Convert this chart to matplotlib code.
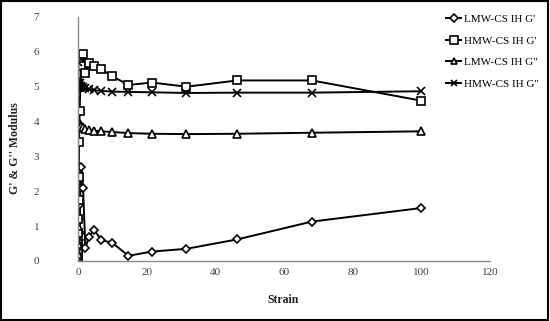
import matplotlib
matplotlib.use("Agg")
import matplotlib.pyplot as plt
from matplotlib.patches import Rectangle

strain = [0.01, 0.0147, 0.0215, 0.0316, 0.0464, 0.0681, 0.1, 0.147, 0.215, 0.316,
          0.464, 0.681, 1.0, 1.47, 2.15, 3.16, 4.64, 6.81, 10.0, 14.7, 21.5, 31.6,
          46.4, 68.1, 100.0]

lmw_g1 = [0.05, 0.3, 0.15, 0.5, 0.25, 0.9, 0.4, 1.2, 0.6, 1.6, 0.8, 2.1, 2.7, 2.1,
          0.37, 0.69, 0.9, 0.6, 0.52, 0.15, 0.27, 0.35, 0.62, 1.13, 1.52]
hmw_g1 = [0.1, 0.15, 0.3, 0.2, 0.5, 0.8, 1.2, 1.75, 2.4, 3.4, 4.3, 5.0, 5.6, 5.95,
          5.4, 5.68, 5.6, 5.5, 5.3, 5.05, 5.12, 5.0, 5.18, 5.18, 4.6]
lmw_g2 = [0.2, 0.5, 1.0, 3.9, 3.95, 4.0, 3.85, 3.9, 3.95, 3.9, 3.92, 3.88, 3.86, 3.84,
          3.8, 3.76, 3.74, 3.72, 3.7, 3.67, 3.65, 3.64, 3.65, 3.68, 3.72]
hmw_g2 = [0.3, 0.6, 5.0, 5.1, 5.2, 5.7, 5.05, 5.1, 5.0, 5.05, 5.1, 5.0, 5.02, 4.98,
          4.95, 4.93, 4.9, 4.88, 4.86, 4.85, 4.84, 4.82, 4.83, 4.83, 4.87]

labels = ["LMW-CS IH G'", "HMW-CS IH G'", 'LMW-CS IH G"', 'HMW-CS IH G"']
x_ticks = [0, 20, 40, 60, 80, 100, 120]
y_ticks = [0, 1, 2, 3, 4, 5, 6, 7]

plt.rcParams['font.family'] = ['Liberation Serif', 'DejaVu Serif']

fig = plt.figure(figsize=(5.5, 3.21), dpi=100)
ax = fig.add_axes([78/550, 1-261/321, (490-78)/550, (261-17)/321])

style = dict(color='black', lw=1.4, mfc='white', mec='black', mew=1.2)
ax.plot(strain, lmw_g1, marker='D', ms=4.3, label=labels[0], **style)
ax.plot(strain, hmw_g1, marker='s', ms=6, label=labels[1], **style)
ax.plot(strain, lmw_g2, marker='^', ms=5.5, label=labels[2], **style)
ax.plot(strain, hmw_g2, marker='x', ms=5.5, label=labels[3], **style)

ax.set_xlim(0, 120)
ax.set_ylim(0, 7)
ax.set_xticks(x_ticks)
ax.set_yticks(y_ticks)
ax.tick_params(axis='both', length=0, labelsize=8, colors='#404040')
ax.tick_params(axis='y', pad=28)
ax.tick_params(axis='x', pad=5)
for s in ['top', 'right']:
    ax.spines[s].set_visible(False)
for s in ['left', 'bottom']:
    ax.spines[s].set_color('#8c8c8c')
    ax.spines[s].set_linewidth(1.0)

fig.text(283/550, 1-300/321, 'Strain', ha='center', va='center',
         fontsize=8.5, fontweight='bold', color='#222222')
fig.text(15/550, 1-148/321, "G' & G'' Modulus", ha='center', va='center',
         rotation=90, fontsize=8.5, fontweight='bold', color='#222222')

fig.legend(loc='upper left', bbox_to_anchor=(442/550, 1-10/321), frameon=False,
           fontsize=8, handlelength=1.3, handletextpad=0.3, labelspacing=1.05,
           markerscale=0.85, borderaxespad=0)

fig.patches.append(Rectangle((0.002, 0.003), 0.995, 0.994, transform=fig.transFigure,
                             fill=False, edgecolor='black', lw=1.5))

fig.savefig('out.png', dpi=100)
